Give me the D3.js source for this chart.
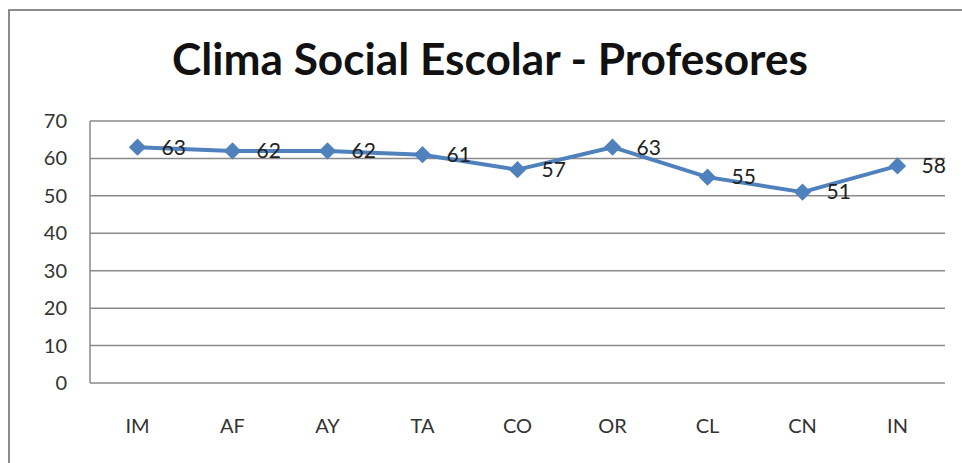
<!DOCTYPE html>
<html>
<head>
<meta charset="utf-8">
<script src="https://cdn.jsdelivr.net/npm/d3@7"></script>
<style>
  body { margin: 0; background: #fff; }
  text { font-family: Lato, "Open Sans", sans-serif; }
</style>
</head>
<body>
<div id="chart"></div>
<script>
var width = 962;
var height = 463;

// data
const categories = ["IM", "AF", "AY", "TA", "CO", "OR", "CL", "CN", "IN"];
const values = [63, 62, 62, 61, 57, 63, 55, 51, 58];
const yTicks = [0, 10, 20, 30, 40, 50, 60, 70];
const title = "Clima Social Escolar - Profesores";

var svg = d3
	.select("#chart")
	.append("svg")
	.attr("width", width)
	.attr("height", height);

// outer chart frame (cut off on right and bottom)
svg.append("path")
	.attr("d", "M9,470 L9,10 L970,10")
	.attr("fill", "none")
	.attr("stroke", "#8c8c8c")
	.attr("stroke-width", 2);

var margin = { left: 90, right: 17, top: 121, bottom: 80 };

var x = d3.scaleBand()
	.domain(categories)
	.range([margin.left, width - margin.right]);

var y = d3.scaleLinear()
	.domain([0, 70])
	.range([height - margin.bottom, margin.top]);

// title
svg.append("text")
	.attr("x", 490)
	.attr("y", 75)
	.attr("text-anchor", "middle")
	.attr("font-size", 44)
	.attr("font-weight", "bold")
	.attr("fill", "#111")
	.attr("textLength", 636)
	.attr("lengthAdjust", "spacingAndGlyphs")
	.text(title);

// gridlines
svg.append("g")
	.selectAll("line")
	.data(yTicks)
	.join("line")
	.attr("x1", margin.left)
	.attr("x2", width - margin.right)
	.attr("y1", (d) => y(d))
	.attr("y2", (d) => y(d))
	.attr("stroke", "#8a8a8a")
	.attr("stroke-width", 1.5);

// left axis line
svg.append("line")
	.attr("x1", margin.left)
	.attr("x2", margin.left)
	.attr("y1", y(70))
	.attr("y2", y(0))
	.attr("stroke", "#8a8a8a")
	.attr("stroke-width", 1.5);

// y tick labels
svg.append("g")
	.selectAll("text")
	.data(yTicks)
	.join("text")
	.attr("x", 67)
	.attr("y", (d) => y(d))
	.attr("dy", "0.35em")
	.attr("text-anchor", "end")
	.attr("font-size", 20)
	.attr("fill", "#333")
	.text((d) => d);

// x labels
svg.append("g")
	.selectAll("text")
	.data(categories)
	.join("text")
	.attr("x", (d) => x(d) + x.bandwidth() / 2)
	.attr("y", 426)
	.attr("dy", "0.35em")
	.attr("text-anchor", "middle")
	.attr("font-size", 20)
	.attr("fill", "#333")
	.text((d) => d);

var cx = (i) => x(categories[i]) + x.bandwidth() / 2;

var line = d3.line()
	.x((d, i) => cx(i))
	.y((d) => y(d));

svg.append("path")
	.attr("d", line(values))
	.attr("fill", "none")
	.attr("stroke", "#4f81bd")
	.attr("stroke-width", 4)
	.attr("stroke-linejoin", "round");

// diamond markers: square rotated 45deg
svg.append("g")
	.selectAll("path")
	.data(values)
	.join("path")
	.attr("d", d3.symbol(d3.symbolSquare, 150))
	.attr("transform", (d, i) => "translate(" + cx(i) + "," + y(d) + ") rotate(45)")
	.attr("fill", "#4f81bd");

// data labels
svg.append("g")
	.selectAll("text")
	.data(values)
	.join("text")
	.attr("x", (d, i) => cx(i) + 24)
	.attr("y", (d) => y(d))
	.attr("dy", "0.35em")
	.attr("font-size", 21)
	.attr("fill", "#222")
	.text((d) => d);
</script>
</body>
</html>
